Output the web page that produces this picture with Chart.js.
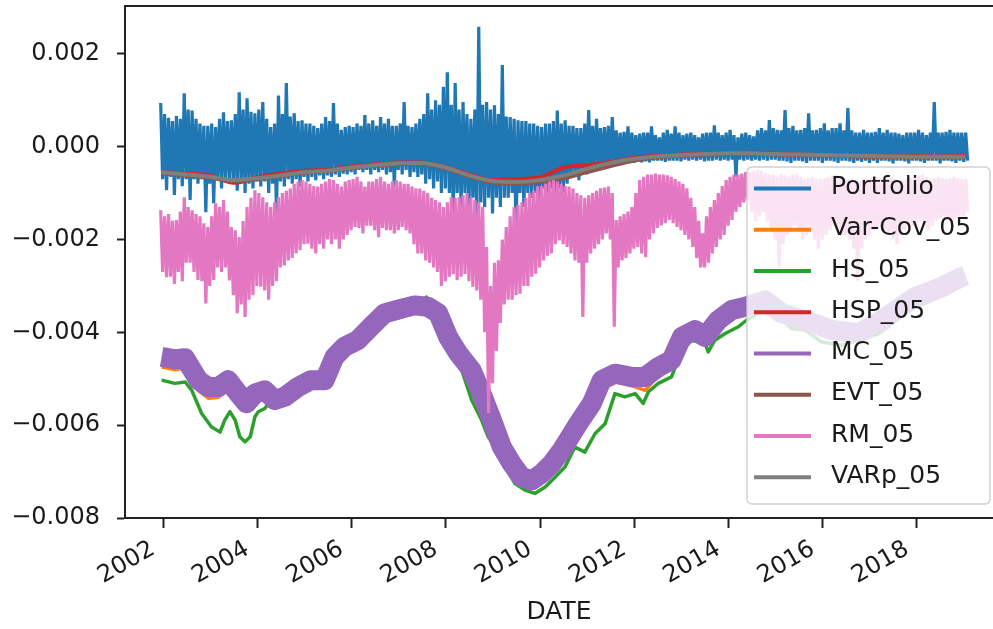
<!DOCTYPE html>
<html>
<head>
<meta charset="utf-8">
<script src="https://cdn.jsdelivr.net/npm/chart.js@4.4.1/dist/chart.umd.min.js"></script>
<style>
html, body { margin: 0; padding: 0; background: #fff; overflow: hidden; }
#wrap { width: 993px; height: 629px; }
</style>
</head>
<body>
<div id="wrap"><canvas id="c" width="993" height="629"></canvas></div>
<script>
// ---------- labels / ticks ----------
const seriesNames = ['Portfolio', 'Var-Cov_05', 'HS_05', 'HSP_05', 'MC_05', 'EVT_05', 'RM_05', 'VARp_05'];
const seriesColors = ['#1f77b4', '#ff7f0e', '#2ca02c', '#d62728', '#9467bd', '#8c564b', '#e377c2', '#7f7f7f'];
const xTickYears = [2002, 2004, 2006, 2008, 2010, 2012, 2014, 2016, 2018];
const yTickValues = [-0.008, -0.006, -0.004, -0.002, 0.000, 0.002];
const xAxisTitle = 'DATE';

// ---------- monthly highs / lows of the daily series (Dec 2001 .. Jan 2019) ----------
const monthlyStart = 2001.95;
const portfolioHigh = [
  0.94e-3, 0.7e-3, 0.62e-3, 0.55e-3, 0.66e-3, 0.6e-3, 1.15e-3, 0.8e-3, 0.78e-3, 0.6e-3, 0.5e-3, 0.45e-3,
  0.45e-3, 0.5e-3, 0.42e-3, 0.6e-3, 0.74e-3, 0.55e-3, 0.57e-3, 0.7e-3, 1.17e-3, 0.8e-3, 1.04e-3, 0.75e-3,
  0.72e-3, 0.8e-3, 0.96e-3, 0.6e-3, 0.42e-3, 0.5e-3, 1.1e-3, 0.7e-3, 1.37e-3, 0.65e-3, 0.72e-3, 0.55e-3,
  0.57e-3, 0.5e-3, 0.5e-3, 0.45e-3, 0.4e-3, 0.5e-3, 0.64e-3, 0.55e-3, 0.94e-3, 0.5e-3, 0.36e-3, 0.42e-3,
  0.45e-3, 0.42e-3, 0.5e-3, 0.45e-3, 0.68e-3, 0.5e-3, 0.57e-3, 0.45e-3, 0.64e-3, 0.5e-3, 0.6e-3, 0.45e-3,
  0.45e-3, 0.5e-3, 0.96e-3, 0.45e-3, 0.42e-3, 0.5e-3, 0.6e-3, 0.7e-3, 1.15e-3, 0.8e-3, 1.0e-3, 0.9e-3,
  1.29e-3, 1.6e-3, 0.9e-3, 1.37e-3, 0.8e-3, 0.96e-3, 0.7e-3, 0.6e-3, 0.8e-3, 2.58e-3, 0.9e-3, 0.96e-3,
  0.8e-3, 0.89e-3, 0.7e-3, 1.76e-3, 0.65e-3, 0.64e-3, 0.6e-3, 0.57e-3, 0.55e-3, 0.55e-3, 0.5e-3, 0.5e-3,
  0.45e-3, 0.42e-3, 0.5e-3, 0.5e-3, 0.55e-3, 0.78e-3, 0.5e-3, 0.57e-3, 0.45e-3, 0.45e-3, 0.4e-3, 0.4e-3,
  0.5e-3, 0.79e-3, 0.45e-3, 0.6e-3, 0.4e-3, 0.42e-3, 0.45e-3, 0.64e-3, 0.35e-3, 0.3e-3, 0.32e-3, 0.44e-3,
  0.3e-3, 0.25e-3, 0.28e-3, 0.3e-3, 0.3e-3, 0.44e-3, 0.25e-3, 0.2e-3, 0.3e-3, 0.36e-3, 0.28e-3, 0.44e-3,
  0.3e-3, 0.25e-3, 0.28e-3, 0.3e-3, 0.25e-3, 0.2e-3, 0.28e-3, 0.3e-3, 0.3e-3, 0.46e-3, 0.3e-3, 0.25e-3,
  0.3e-3, 0.36e-3, 0.25e-3, 0.2e-3, 0.28e-3, 0.3e-3, 0.25e-3, 0.22e-3, 0.35e-3, 0.4e-3, 0.35e-3, 0.57e-3,
  0.4e-3, 0.36e-3, 0.35e-3, 0.79e-3, 0.4e-3, 0.45e-3, 0.35e-3, 0.36e-3, 0.4e-3, 0.72e-3, 0.35e-3, 0.36e-3,
  0.4e-3, 0.5e-3, 0.35e-3, 0.4e-3, 0.4e-3, 0.5e-3, 0.35e-3, 0.83e-3, 0.35e-3, 0.3e-3, 0.3e-3, 0.36e-3,
  0.3e-3, 0.3e-3, 0.32e-3, 0.4e-3, 0.3e-3, 0.36e-3, 0.3e-3, 0.3e-3, 0.28e-3, 0.25e-3, 0.3e-3, 0.3e-3,
  0.3e-3, 0.36e-3, 0.3e-3, 0.25e-3, 0.3e-3, 0.96e-3, 0.3e-3, 0.3e-3, 0.32e-3, 0.36e-3, 0.3e-3, 0.3e-3,
  0.3e-3, 0.3e-3
];
const portfolioLow = [
  -0.7e-3, -0.94e-3, -0.65e-3, -1.04e-3, -0.7e-3, -0.85e-3, -0.7e-3, -1.15e-3, -0.7e-3, -0.8e-3, -0.7e-3, -1.41e-3,
  -0.8e-3, -1.22e-3, -0.7e-3, -0.9e-3, -0.7e-3, -0.72e-3, -0.75e-3, -0.95e-3, -0.75e-3, -1.0e-3, -0.8e-3, -0.9e-3,
  -0.75e-3, -0.86e-3, -0.75e-3, -1.0e-3, -0.8e-3, -1.44e-3, -0.75e-3, -0.86e-3, -0.7e-3, -0.8e-3, -0.7e-3, -0.86e-3,
  -0.65e-3, -0.75e-3, -0.65e-3, -0.72e-3, -0.62e-3, -0.7e-3, -0.62e-3, -0.65e-3, -0.6e-3, -0.65e-3, -0.58e-3, -0.6e-3,
  -0.55e-3, -0.6e-3, -0.5e-3, -0.55e-3, -0.5e-3, -0.6e-3, -0.5e-3, -0.55e-3, -0.5e-3, -0.6e-3, -0.55e-3, -0.86e-3,
  -0.5e-3, -0.6e-3, -0.5e-3, -0.65e-3, -0.55e-3, -0.65e-3, -0.6e-3, -0.8e-3, -0.7e-3, -0.9e-3, -0.75e-3, -1.0e-3,
  -0.9e-3, -1.0e-3, -1.51e-3, -1.0e-3, -1.3e-3, -1.0e-3, -1.3e-3, -1.1e-3, -1.65e-3, -1.2e-3, -1.3e-3, -1.1e-3,
  -1.44e-3, -1.1e-3, -1.3e-3, -1.1e-3, -1.1e-3, -1.0e-3, -1.9e-3, -1.0e-3, -1.3e-3, -1.0e-3, -1.1e-3, -1.0e-3,
  -1.15e-3, -0.9e-3, -1.0e-3, -0.9e-3, -1.05e-3, -0.9e-3, -1.0e-3, -0.8e-3, -0.65e-3, -0.6e-3, -0.72e-3, -0.55e-3,
  -0.6e-3, -0.5e-3, -0.5e-3, -0.45e-3, -0.45e-3, -0.42e-3, -0.45e-3, -0.4e-3, -0.4e-3, -0.38e-3, -0.36e-3, -0.35e-3,
  -0.35e-3, -0.32e-3, -0.34e-3, -0.32e-3, -0.34e-3, -0.3e-3, -0.3e-3, -0.3e-3, -0.33e-3, -0.3e-3, -0.3e-3, -0.3e-3,
  -0.32e-3, -0.28e-3, -0.3e-3, -0.28e-3, -0.3e-3, -0.28e-3, -0.32e-3, -0.3e-3, -0.3e-3, -0.28e-3, -0.3e-3, -0.28e-3,
  -0.3e-3, -0.28e-3, -0.65e-3, -0.28e-3, -0.3e-3, -0.28e-3, -0.3e-3, -0.28e-3, -0.3e-3, -0.28e-3, -0.3e-3, -0.28e-3,
  -0.28e-3, -0.3e-3, -0.3e-3, -0.32e-3, -0.35e-3, -0.3e-3, -0.3e-3, -0.32e-3, -0.35e-3, -0.3e-3, -0.3e-3, -0.3e-3,
  -0.35e-3, -0.3e-3, -0.3e-3, -0.32e-3, -0.35e-3, -0.3e-3, -0.3e-3, -0.32e-3, -0.35e-3, -0.3e-3, -0.33e-3, -0.3e-3,
  -0.35e-3, -0.3e-3, -0.35e-3, -0.3e-3, -0.3e-3, -0.32e-3, -0.36e-3, -0.3e-3, -0.3e-3, -0.32e-3, -0.36e-3, -0.3e-3,
  -0.3e-3, -0.32e-3, -0.35e-3, -0.3e-3, -0.3e-3, -0.3e-3, -0.36e-3, -0.3e-3, -0.3e-3, -0.32e-3, -0.35e-3, -0.3e-3,
  -0.33e-3, -0.3e-3
];
const rmHigh = [
  -1.37e-3, -1.5e-3, -1.45e-3, -1.6e-3, -1.58e-3, -1.4e-3, -1.09e-3, -1.3e-3, -1.37e-3, -1.45e-3, -1.5e-3, -1.65e-3,
  -1.73e-3, -1.5e-3, -1.22e-3, -1.3e-3, -1.15e-3, -1.4e-3, -1.73e-3, -1.8e-3, -1.95e-3, -1.6e-3, -1.3e-3, -1.1e-3,
  -0.94e-3, -1.0e-3, -1.09e-3, -1.2e-3, -1.3e-3, -1.2e-3, -1.09e-3, -1.0e-3, -0.95e-3, -0.9e-3, -0.8e-3, -0.75e-3,
  -0.72e-3, -0.75e-3, -0.8e-3, -0.85e-3, -0.86e-3, -0.8e-3, -0.75e-3, -0.7e-3, -0.72e-3, -0.8e-3, -0.86e-3, -0.75e-3,
  -0.72e-3, -0.7e-3, -0.65e-3, -0.75e-3, -0.86e-3, -0.75e-3, -0.75e-3, -0.7e-3, -0.65e-3, -0.75e-3, -0.8e-3, -0.75e-3,
  -0.72e-3, -0.75e-3, -0.8e-3, -0.8e-3, -0.86e-3, -0.9e-3, -0.9e-3, -0.95e-3, -1.0e-3, -1.1e-3, -1.15e-3, -1.2e-3,
  -1.3e-3, -1.2e-3, -1.09e-3, -1.1e-3, -1.09e-3, -1.05e-3, -1.0e-3, -1.1e-3, -1.15e-3, -1.2e-3, -1.3e-3, -2.16e-3,
  -3.0e-3, -2.5e-3, -2.45e-3, -2.0e-3, -1.73e-3, -1.5e-3, -1.3e-3, -1.25e-3, -1.2e-3, -1.1e-3, -1.0e-3, -0.95e-3,
  -0.86e-3, -0.85e-3, -0.8e-3, -0.75e-3, -0.72e-3, -0.75e-3, -0.8e-3, -0.85e-3, -0.86e-3, -0.9e-3, -1.0e-3, -1.05e-3,
  -1.1e-3, -1.05e-3, -1.0e-3, -0.95e-3, -0.9e-3, -0.88e-3, -0.86e-3, -1.0e-3, -1.58e-3, -1.5e-3, -1.45e-3, -1.4e-3,
  -1.3e-3, -1.0e-3, -0.72e-3, -0.65e-3, -0.6e-3, -0.6e-3, -0.58e-3, -0.6e-3, -0.6e-3, -0.62e-3, -0.65e-3, -0.7e-3,
  -0.75e-3, -0.8e-3, -0.9e-3, -1.1e-3, -1.3e-3, -1.6e-3, -1.87e-3, -1.5e-3, -1.3e-3, -1.15e-3, -1.0e-3, -0.85e-3,
  -0.72e-3, -0.65e-3, -0.6e-3, -0.6e-3, -0.58e-3, -0.55e-3, -0.55e-3, -0.52e-3, -0.5e-3, -0.52e-3, -0.57e-3, -0.6e-3,
  -0.6e-3, -0.65e-3, -0.6e-3, -0.62e-3, -0.65e-3, -0.6e-3, -0.6e-3, -0.65e-3, -0.7e-3, -0.68e-3, -0.65e-3, -0.7e-3,
  -0.7e-3, -0.68e-3, -0.65e-3, -0.62e-3, -0.6e-3, -0.65e-3, -0.7e-3, -0.7e-3, -0.7e-3, -0.72e-3, -0.75e-3, -0.7e-3,
  -0.7e-3, -0.68e-3, -0.65e-3, -0.68e-3, -0.7e-3, -0.68e-3, -0.65e-3, -0.7e-3, -0.75e-3, -0.72e-3, -0.7e-3, -0.68e-3,
  -0.65e-3, -0.62e-3, -0.6e-3, -0.65e-3, -0.7e-3, -0.68e-3, -0.65e-3, -0.68e-3, -0.7e-3, -0.68e-3, -0.65e-3, -0.68e-3,
  -0.7e-3, -0.7e-3
];
const rmLow = [
  -2.7e-3, -2.81e-3, -2.8e-3, -2.96e-3, -2.7e-3, -2.9e-3, -2.5e-3, -2.5e-3, -2.7e-3, -2.87e-3, -2.9e-3, -3.38e-3,
  -3.0e-3, -2.87e-3, -2.6e-3, -2.7e-3, -2.6e-3, -2.88e-3, -3.2e-3, -3.59e-3, -3.4e-3, -3.67e-3, -3.3e-3, -3.2e-3,
  -3.0e-3, -3.02e-3, -3.1e-3, -3.3e-3, -3.0e-3, -2.9e-3, -2.6e-3, -2.56e-3, -2.45e-3, -2.4e-3, -2.3e-3, -2.23e-3,
  -2.1e-3, -2.09e-3, -2.2e-3, -2.3e-3, -2.1e-3, -2.2e-3, -2.0e-3, -2.1e-3, -2.0e-3, -2.2e-3, -2.0e-3, -1.9e-3,
  -1.8e-3, -1.73e-3, -1.75e-3, -1.87e-3, -1.7e-3, -1.7e-3, -1.8e-3, -1.95e-3, -1.75e-3, -1.8e-3, -1.8e-3, -1.87e-3,
  -1.8e-3, -1.73e-3, -1.8e-3, -1.87e-3, -2.1e-3, -2.3e-3, -2.3e-3, -2.45e-3, -2.5e-3, -2.6e-3, -2.7e-3, -3.0e-3,
  -2.9e-3, -2.8e-3, -2.75e-3, -2.88e-3, -2.8e-3, -2.74e-3, -2.9e-3, -3.02e-3, -3.1e-3, -3.3e-3, -4.0e-3, -5.74e-3,
  -5.1e-3, -4.4e-3, -3.8e-3, -3.4e-3, -3.3e-3, -3.3e-3, -3.2e-3, -3.17e-3, -3.0e-3, -3.0e-3, -2.8e-3, -2.74e-3,
  -2.6e-3, -2.45e-3, -2.35e-3, -2.3e-3, -2.1e-3, -2.02e-3, -2.1e-3, -2.16e-3, -2.3e-3, -2.45e-3, -2.5e-3, -3.67e-3,
  -2.5e-3, -2.3e-3, -2.2e-3, -2.1e-3, -2.0e-3, -1.87e-3, -2.0e-3, -3.88e-3, -2.6e-3, -2.45e-3, -2.4e-3, -2.3e-3,
  -2.2e-3, -2.16e-3, -2.3e-3, -2.38e-3, -2.0e-3, -1.87e-3, -1.75e-3, -1.7e-3, -1.65e-3, -1.58e-3, -1.65e-3, -1.73e-3,
  -1.8e-3, -1.9e-3, -2.0e-3, -2.16e-3, -2.4e-3, -2.6e-3, -2.6e-3, -2.5e-3, -2.3e-3, -2.16e-3, -2.0e-3, -1.9e-3,
  -1.7e-3, -1.58e-3, -1.4e-3, -1.3e-3, -1.2e-3, -1.15e-3, -1.4e-3, -1.6e-3, -1.5e-3, -1.4e-3, -1.6e-3, -1.8e-3,
  -2.0e-3, -2.6e-3, -2.1e-3, -1.9e-3, -1.8e-3, -1.7e-3, -1.8e-3, -2.0e-3, -1.9e-3, -1.8e-3, -2.0e-3, -2.2e-3,
  -2.0e-3, -1.9e-3, -1.8e-3, -1.7e-3, -1.8e-3, -1.9e-3, -1.9e-3, -2.0e-3, -2.2e-3, -2.9e-3, -2.2e-3, -2.0e-3,
  -1.9e-3, -1.8e-3, -1.75e-3, -1.7e-3, -1.8e-3, -1.9e-3, -2.0e-3, -2.1e-3, -1.9e-3, -1.8e-3, -1.75e-3, -1.7e-3,
  -1.7e-3, -1.6e-3, -1.7e-3, -1.8e-3, -1.7e-3, -1.6e-3, -1.55e-3, -1.5e-3, -1.55e-3, -1.6e-3, -1.55e-3, -1.5e-3,
  -1.5e-3, -1.4e-3
];

// ---------- smooth VaR estimates near zero ----------
const nearZeroDates = [2001.96, 2002.5, 2003.0, 2003.5, 2004.0, 2004.5, 2005.0, 2005.5, 2006.0, 2006.5, 2007.0, 2007.5,
  2008.0, 2008.5, 2009.0, 2009.5, 2010.0, 2010.5, 2011.0, 2011.5, 2012.0, 2012.5, 2013.0, 2013.5, 2014.0, 2014.5,
  2015.0, 2015.5, 2016.0, 2016.5, 2017.0, 2017.5, 2018.0, 2018.5, 2019.03];
const hspValues = [-0.55e-3, -0.58e-3, -0.62e-3, -0.78e-3, -0.66e-3, -0.58e-3, -0.52e-3, -0.5e-3, -0.43e-3, -0.38e-3, -0.34e-3, -0.34e-3,
  -0.44e-3, -0.6e-3, -0.72e-3, -0.7e-3, -0.66e-3, -0.45e-3, -0.4e-3, -0.33e-3, -0.24e-3, -0.2e-3, -0.17e-3, -0.15e-3, -0.14e-3, -0.13e-3,
  -0.15e-3, -0.17e-3, -0.18e-3, -0.2e-3, -0.21e-3, -0.21e-3, -0.2e-3, -0.21e-3, -0.2e-3];
const evtValues = [-0.57e-3, -0.62e-3, -0.67e-3, -0.74e-3, -0.7e-3, -0.63e-3, -0.56e-3, -0.53e-3, -0.46e-3, -0.41e-3, -0.38e-3, -0.37e-3,
  -0.47e-3, -0.64e-3, -0.77e-3, -0.79e-3, -0.76e-3, -0.68e-3, -0.55e-3, -0.42e-3, -0.3e-3, -0.23e-3, -0.19e-3, -0.17e-3, -0.15e-3, -0.15e-3,
  -0.17e-3, -0.18e-3, -0.19e-3, -0.2e-3, -0.21e-3, -0.22e-3, -0.23e-3, -0.23e-3, -0.23e-3];
const varpValues = [-0.55e-3, -0.6e-3, -0.65e-3, -0.72e-3, -0.68e-3, -0.62e-3, -0.55e-3, -0.52e-3, -0.45e-3, -0.4e-3, -0.36e-3, -0.35e-3,
  -0.45e-3, -0.62e-3, -0.74e-3, -0.76e-3, -0.72e-3, -0.62e-3, -0.48e-3, -0.35e-3, -0.26e-3, -0.21e-3, -0.18e-3, -0.16e-3, -0.14e-3, -0.14e-3,
  -0.16e-3, -0.17e-3, -0.18e-3, -0.19e-3, -0.2e-3, -0.21e-3, -0.22e-3, -0.22e-3, -0.22e-3];

// ---------- parametric / Monte Carlo estimates ----------
const mcDates = [2001.97, 2002.25, 2002.47, 2002.75, 2002.96, 2003.17, 2003.38, 2003.6, 2003.77, 2003.95,
  2004.16, 2004.37, 2004.58, 2004.86, 2005.14, 2005.43, 2005.64, 2005.85, 2006.13, 2006.41,
  2006.7, 2007.06, 2007.34, 2007.62, 2007.84, 2008.05, 2008.27, 2008.55, 2008.76, 2008.98,
  2009.19, 2009.4, 2009.61, 2009.83, 2010.04, 2010.25, 2010.46, 2010.81, 2011.1, 2011.31,
  2011.59, 2011.94, 2012.23, 2012.51, 2012.79, 2013.01, 2013.29, 2013.5, 2013.78, 2014.07,
  2014.36, 2014.78, 2015.13, 2015.62, 2016.19, 2016.76, 2017.25, 2017.96, 2018.53, 2018.95, 2019.03];
const mcValues = [-4.53e-3, -4.58e-3, -4.56e-3, -5.03e-3, -5.18e-3, -5.18e-3, -5.03e-3, -5.32e-3, -5.53e-3, -5.32e-3,
  -5.25e-3, -5.46e-3, -5.39e-3, -5.18e-3, -5.03e-3, -5.03e-3, -4.53e-3, -4.31e-3, -4.17e-3, -3.88e-3,
  -3.59e-3, -3.49e-3, -3.42e-3, -3.45e-3, -3.59e-3, -4.1e-3, -4.46e-3, -4.82e-3, -5.32e-3, -5.89e-3,
  -6.47e-3, -6.83e-3, -7.12e-3, -7.19e-3, -7.04e-3, -6.83e-3, -6.54e-3, -5.97e-3, -5.53e-3, -5.03e-3,
  -4.89e-3, -4.96e-3, -4.96e-3, -4.75e-3, -4.6e-3, -4.1e-3, -3.95e-3, -4.1e-3, -3.74e-3, -3.52e-3,
  -3.45e-3, -3.31e-3, -3.59e-3, -3.74e-3, -3.95e-3, -4.02e-3, -3.74e-3, -3.24e-3, -3.02e-3, -2.81e-3, -2.78e-3];
const varCovValues = [-4.75e-3, -4.8e-3, -4.77e-3, -5.25e-3, -5.42e-3, -5.4e-3, -5.25e-3, -5.5e-3, -5.7e-3, -5.5e-3,
  -5.4e-3, -5.6e-3, -5.52e-3, -5.32e-3, -5.15e-3, -5.15e-3, -4.65e-3, -4.45e-3, -4.3e-3, -4.0e-3,
  -3.7e-3, -3.6e-3, -3.55e-3, -3.56e-3, -3.72e-3, -4.22e-3, -4.6e-3, -4.97e-3, -5.47e-3, -6.05e-3,
  -6.62e-3, -6.98e-3, -7.27e-3, -7.35e-3, -7.18e-3, -6.98e-3, -6.7e-3, -6.15e-3, -5.7e-3, -5.2e-3,
  -5.06e-3, -5.15e-3, -5.25e-3, -4.93e-3, -4.77e-3, -4.27e-3, -4.12e-3, -4.27e-3, -3.9e-3, -3.68e-3,
  -3.6e-3, -3.47e-3, -3.75e-3, -3.9e-3, -4.1e-3, -4.17e-3, -3.9e-3, -3.4e-3, -3.17e-3, -2.97e-3, -2.93e-3];

// ---------- historical simulation ----------
const hsDates = [2001.97, 2002.25, 2002.47, 2002.61, 2002.82, 2003.03, 2003.21, 2003.31, 2003.42, 2003.53,
  2003.63, 2003.74, 2003.85, 2003.95, 2004.02, 2004.16, 2004.24, 2004.5, 2004.86, 2005.14,
  2005.43, 2005.64, 2005.85, 2006.13, 2006.56, 2007.06, 2007.4, 2007.59, 2007.75, 2007.98,
  2008.27, 2008.55, 2008.76, 2008.9, 2009.05, 2009.26, 2009.47, 2009.68, 2009.89, 2010.11,
  2010.32, 2010.53, 2010.74, 2010.95, 2011.17, 2011.38, 2011.59, 2011.8, 2012.02, 2012.19,
  2012.3, 2012.51, 2012.79, 2012.9, 2013.01, 2013.22, 2013.5, 2013.57, 2013.71, 2013.92,
  2014.21, 2014.38, 2014.7, 2015.06, 2015.34, 2015.62, 2015.98, 2016.4, 2016.76, 2017.18,
  2017.39, 2017.82, 2018.31, 2018.67, 2018.95, 2019.03];
const hsValues = [-5.03e-3, -5.1e-3, -5.07e-3, -5.25e-3, -5.75e-3, -6.04e-3, -6.15e-3, -5.89e-3, -5.71e-3, -5.89e-3,
  -6.25e-3, -6.36e-3, -6.25e-3, -5.82e-3, -5.71e-3, -5.64e-3, -5.53e-3, -5.45e-3, -5.25e-3, -5.1e-3,
  -5.08e-3, -4.6e-3, -4.4e-3, -4.25e-3, -3.8e-3, -3.67e-3, -3.55e-3, -3.24e-3, -3.5e-3, -3.81e-3,
  -4.6e-3, -5.46e-3, -5.89e-3, -6.25e-3, -6.47e-3, -6.9e-3, -7.26e-3, -7.4e-3, -7.47e-3, -7.33e-3,
  -7.12e-3, -6.9e-3, -6.47e-3, -6.58e-3, -6.18e-3, -5.97e-3, -5.32e-3, -5.39e-3, -5.32e-3, -5.53e-3,
  -5.28e-3, -5.1e-3, -4.96e-3, -4.67e-3, -4.39e-3, -4.17e-3, -4.24e-3, -4.42e-3, -4.17e-3, -4.03e-3,
  -3.88e-3, -3.74e-3, -3.55e-3, -3.67e-3, -3.92e-3, -3.95e-3, -4.21e-3, -4.28e-3, -4.17e-3, -4.03e-3,
  -3.88e-3, -3.52e-3, -3.31e-3, -3.16e-3, -2.95e-3, -2.92e-3];

// ---------- build point tables ----------
const monthlyDates = portfolioHigh.map((_, i) => monthlyStart + i / 12);
const pts = (xs, ys) => xs.map((x, i) => ({ x: x, y: ys[i] }));
// each month: its high, then half a month later its low
const band = (hi, lo) => monthlyDates.flatMap((t, i) => [{ x: t, y: hi[i] }, { x: t + 1 / 24, y: lo[i] }]);

const FONT = 'DejaVu Sans';
const TEXT = '#1a1a1a';

function ds(idx, data, width, order, extra) {
  return Object.assign({
    label: seriesNames[idx], data: data, borderColor: seriesColors[idx], backgroundColor: seriesColors[idx],
    borderWidth: width, pointRadius: 0, fill: false, order: order, tension: 0, borderJoinStyle: 'round'
  }, extra || {});
}

const datasets = [
  ds(0, band(portfolioHigh, portfolioLow), 3.2, 8, { borderJoinStyle: 'bevel' }),
  ds(1, pts(mcDates, varCovValues), 3.5, 7),
  ds(2, pts(hsDates, hsValues), 3.5, 6),
  ds(3, pts(nearZeroDates, hspValues), 4, 5, { cubicInterpolationMode: 'monotone' }),
  ds(4, pts(mcDates, mcValues), 20, 4),
  ds(5, pts(nearZeroDates, evtValues), 4, 3, { cubicInterpolationMode: 'monotone' }),
  ds(6, band(rmHigh, rmLow), 3.2, 2, { borderJoinStyle: 'bevel' }),
  ds(7, pts(nearZeroDates, varpValues), 4, 1, { cubicInterpolationMode: 'monotone' })
];

const fmtY = v => (v < -1e-12 ? '\u2212' : '') + Math.abs(v).toFixed(3);
const noPad = s => { s.paddingLeft = 0; s.paddingRight = 0; s.paddingTop = 0; s.paddingBottom = 0; };

// top spine (the right spine lies just outside the picture)
const framePlugin = {
  id: 'frame',
  afterDatasetsDraw(chart) {
    const a = chart.chartArea, ctx = chart.ctx;
    ctx.save();
    ctx.strokeStyle = '#222'; ctx.lineWidth = 2;
    ctx.beginPath();
    ctx.moveTo(a.left, a.top); ctx.lineTo(chart.width, a.top);
    ctx.stroke();
    ctx.restore();
  },
  afterDraw(chart) {
    // keep the clipped right edge of the axes clean
    const a = chart.chartArea, ctx = chart.ctx;
    ctx.save();
    ctx.fillStyle = '#fff';
    ctx.fillRect(chart.width - 2, a.top + 1.5, 2, a.bottom - a.top - 2.5);
    ctx.restore();
  }
};

// matplotlib-like legend inside the axes, lower right
const legendPlugin = {
  id: 'innerLegend',
  afterDatasetsDraw(chart) {
    const a = chart.chartArea, ctx = chart.ctx;
    const w = 243, h = 337, r = 5;
    const x0 = a.right - 3 - w, y0 = a.bottom - 14 - h;
    ctx.save();
    ctx.beginPath();
    ctx.moveTo(x0 + r, y0);
    ctx.lineTo(x0 + w - r, y0); ctx.arcTo(x0 + w, y0, x0 + w, y0 + r, r);
    ctx.lineTo(x0 + w, y0 + h - r); ctx.arcTo(x0 + w, y0 + h, x0 + w - r, y0 + h, r);
    ctx.lineTo(x0 + r, y0 + h); ctx.arcTo(x0, y0 + h, x0, y0 + h - r, r);
    ctx.lineTo(x0, y0 + r); ctx.arcTo(x0, y0, x0 + r, y0, r);
    ctx.closePath();
    ctx.fillStyle = 'rgba(255,255,255,0.8)';
    ctx.fill();
    ctx.strokeStyle = 'rgba(204,204,204,0.9)';
    ctx.lineWidth = 1.5;
    ctx.stroke();
    ctx.font = '25px "' + FONT + '"';
    ctx.textBaseline = 'middle';
    ctx.textAlign = 'left';
    chart.data.datasets.forEach((d, i) => {
      const y = y0 + 21.5 + i * 41.25;
      ctx.strokeStyle = d.borderColor;
      ctx.lineWidth = 4;
      ctx.lineCap = 'butt';
      ctx.beginPath(); ctx.moveTo(x0 + 7, y); ctx.lineTo(x0 + 64, y); ctx.stroke();
      ctx.fillStyle = TEXT;
      ctx.fillText(d.label, x0 + 84, y - 1);
    });
    ctx.restore();
  }
};

new Chart(document.getElementById('c'), {
  type: 'line',
  data: { datasets: datasets },
  plugins: [framePlugin, legendPlugin],
  options: {
    responsive: false,
    animation: false,
    devicePixelRatio: 1,
    normalized: true,
    layout: { padding: { top: 6, right: 0, left: 0, bottom: 0 } },
    plugins: { legend: { display: false }, tooltip: { enabled: false } },
    elements: { point: { radius: 0 } },
    scales: {
      x: {
        type: 'linear', position: 'bottom', min: 2001.193, max: 2019.613,
        afterBuildTicks: s => { s.ticks = xTickYears.map(v => ({ value: v })); },
        afterFit: s => { s.height = 111; noPad(s); },
        grid: { drawOnChartArea: false, drawTicks: true, tickLength: 10, tickWidth: 2, tickColor: '#222' },
        border: { display: true, color: '#222', width: 2 },
        ticks: {
          autoSkip: false, minRotation: 30, maxRotation: 30, padding: 7, labelOffset: -10,
          color: TEXT, font: { family: FONT, size: 24 }, callback: v => String(v)
        },
        title: { display: true, text: xAxisTitle, color: TEXT, font: { family: FONT, size: 25 }, padding: { top: 0, bottom: 2 } }
      },
      y: {
        type: 'linear', position: 'left', min: -0.008, max: 0.00303,
        afterBuildTicks: s => { s.ticks = yTickValues.map(v => ({ value: v })); },
        afterFit: s => { s.width = 125; noPad(s); },
        grid: { drawOnChartArea: false, drawTicks: true, tickLength: 8, tickWidth: 2, tickColor: '#222' },
        border: { display: true, color: '#222', width: 2 },
        ticks: { padding: 17, color: TEXT, font: { family: FONT, size: 24 }, callback: fmtY }
      }
    }
  }
});
</script>
</body>
</html>
